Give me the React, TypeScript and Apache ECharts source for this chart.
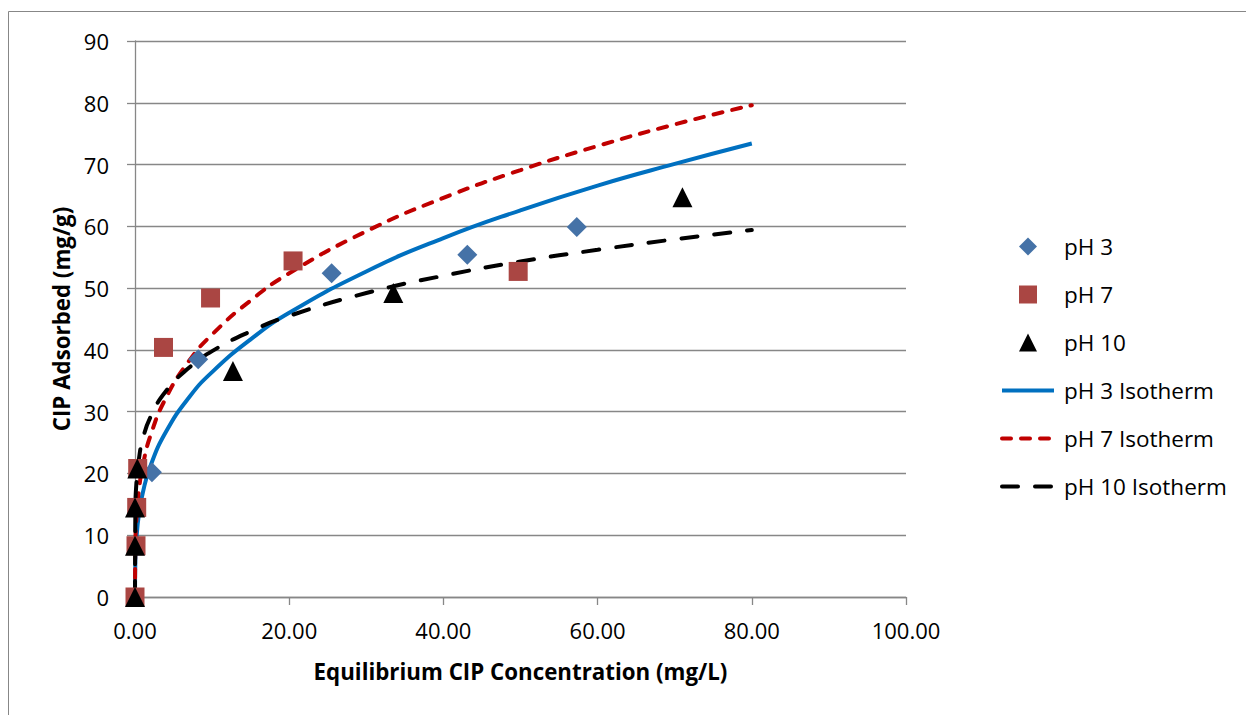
import React, { useEffect, useRef } from "react";
import * as echarts from "echarts";

const xTicks = [0, 20, 40, 60, 80, 100];
const yTicks = [0, 10, 20, 30, 40, 50, 60, 70, 80, 90];

const ph3Points: number[][] = [
  [2.2, 20.2], [8.2, 38.5], [25.5, 52.4], [43.1, 55.4], [57.3, 59.9],
];
const ph7Points: number[][] = [
  [0, 0], [0.13, 8.3], [0.22, 14.5], [0.35, 20.8], [3.7, 40.4], [9.8, 48.4], [20.5, 54.4], [49.7, 52.7],
];
const ph10Points: number[][] = [
  [0, 0], [0, 8.3], [0, 14.5], [0.3, 20.8], [12.7, 36.6], [33.5, 49.2], [71.0, 64.7],
];

const isoX = [0, 0.05, 0.2, 0.5, 1, 2, 4, 7, 10, 15, 20, 30, 40, 50, 60, 70, 80];
const iso3Y = [0, 6.1, 9.7, 13.3, 16.8, 21.2, 26.7, 32.3, 36.4, 41.7, 46.0, 52.7, 58.1, 62.6, 66.6, 70.1, 73.4];
const iso7Y = [0, 8.6, 13.0, 17.2, 21.2, 26.1, 32.2, 38.2, 42.5, 48.0, 52.4, 59.2, 64.6, 69.1, 73.0, 76.5, 79.6];
const iso10Y = [0, 14.3, 18.7, 22.3, 25.5, 29.1, 33.3, 37.1, 39.8, 43.0, 45.5, 49.2, 52.0, 54.3, 56.2, 57.9, 59.4];

const FONT = "'Open Sans', 'Noto Sans', sans-serif";
const GRID = "#878787";

const RED_DASH = [9, 10];
const BLACK_DASH = [16, 17];

const ICON_DIAMOND = "path://M0,-1L1,0L0,1L-1,0Z";
const ICON_SQUARE = "path://M0,0H1V1H0Z";
const ICON_TRIANGLE = "path://M0,-1L1,1L-1,1Z";

export default function App() {
  const ref = useRef<HTMLDivElement>(null);
  useEffect(() => {
    document.body.style.margin = "0";
    if (!ref.current) return;
    const chart = echarts.init(ref.current, null, { renderer: "svg" });
    const pair = (ys: number[]) => isoX.map((x, i) => [x, ys[i]]);
    const lineBase = {
      type: "line" as const,
      showSymbol: false,
      symbol: "none",
      smooth: 0.5,
      z: 2,
    };
    chart.setOption({
      animation: false,
      textStyle: { fontFamily: FONT },
      graphic: [
        {
          type: "rect",
          shape: { x: 8.5, y: 11.5, width: 1400, height: 900 },
          style: { fill: "none", stroke: GRID, lineWidth: 1 },
          silent: true,
        },
      ],
      grid: { left: 135, right: 340, top: 41, bottom: 118, containLabel: false },
      xAxis: {
        type: "value",
        min: xTicks[0],
        max: xTicks[xTicks.length - 1],
        interval: 20,
        name: "Equilibrium CIP Concentration (mg/L)",
        nameLocation: "middle",
        nameGap: 63,
        nameTextStyle: { fontFamily: FONT, fontSize: 22.3, fontWeight: "bold", color: "#000" },
        axisLine: { show: true, lineStyle: { color: GRID, width: 1.3 } },
        axisTick: { show: true, length: 8, lineStyle: { color: GRID, width: 1.3 } },
        axisLabel: {
          fontFamily: FONT,
          fontSize: 22,
          color: "#000",
          margin: 22,
          formatter: (v: number) => v.toFixed(2),
        },
        splitLine: { show: false },
      },
      yAxis: {
        type: "value",
        min: yTicks[0],
        max: yTicks[yTicks.length - 1],
        interval: 10,
        name: "CIP Adsorbed (mg/g)",
        nameLocation: "middle",
        nameGap: 62,
        nameTextStyle: { fontFamily: FONT, fontSize: 22.3, fontWeight: "bold", color: "#000" },
        axisLine: { show: true, lineStyle: { color: GRID, width: 1.3 } },
        axisTick: { show: true, length: 8, lineStyle: { color: GRID, width: 1.3 } },
        axisLabel: { fontFamily: FONT, fontSize: 22, color: "#000", margin: 26 },
        splitLine: { show: true, lineStyle: { color: GRID, width: 1.3 } },
      },
      legend: {
        orient: "vertical",
        left: 995,
        top: 230,
        itemWidth: 52,
        itemHeight: 18,
        itemGap: 25,
        symbolKeepAspect: true,
        textStyle: { fontFamily: FONT, fontSize: 22.5, color: "#000", padding: [0, 0, 0, 5] },
        data: [
          { name: "pH 3", icon: ICON_DIAMOND },
          { name: "pH 7", icon: ICON_SQUARE },
          { name: "pH 10", icon: ICON_TRIANGLE },
          { name: "pH 3 Isotherm", itemStyle: { opacity: 0 }, lineStyle: { width: 4 } },
          { name: "pH 7 Isotherm", itemStyle: { opacity: 0 }, lineStyle: { width: 4 } },
          { name: "pH 10 Isotherm", itemStyle: { opacity: 0 }, lineStyle: { width: 4 } },
        ],
      },
      series: [
        {
          ...lineBase,
          name: "pH 3 Isotherm",
          data: pair(iso3Y),
          lineStyle: { color: "#0070C0", width: 4 },
          itemStyle: { color: "#0070C0" },
        },
        {
          ...lineBase,
          name: "pH 7 Isotherm",
          data: pair(iso7Y),
          lineStyle: { color: "#C00000", width: 4, type: RED_DASH, cap: "round" },
          itemStyle: { color: "#C00000" },
        },
        {
          ...lineBase,
          name: "pH 10 Isotherm",
          data: pair(iso10Y),
          lineStyle: { color: "#000000", width: 4, type: BLACK_DASH, cap: "round" },
          itemStyle: { color: "#000000" },
        },
        {
          type: "scatter",
          name: "pH 3",
          data: ph3Points,
          symbol: "diamond",
          symbolSize: 20,
          itemStyle: { color: "#4572A7", opacity: 1 },
          z: 3,
        },
        {
          type: "scatter",
          name: "pH 7",
          data: ph7Points,
          symbol: "rect",
          symbolSize: 19,
          itemStyle: { color: "#AA4643", opacity: 1 },
          z: 4,
        },
        {
          type: "scatter",
          name: "pH 10",
          data: ph10Points,
          symbol: "triangle",
          symbolSize: 20,
          itemStyle: { color: "#000000", opacity: 1 },
          z: 5,
        },
      ],
    });
    return () => chart.dispose();
  }, []);
  return <div ref={ref} style={{ width: 1246, height: 715 }} />;
}
